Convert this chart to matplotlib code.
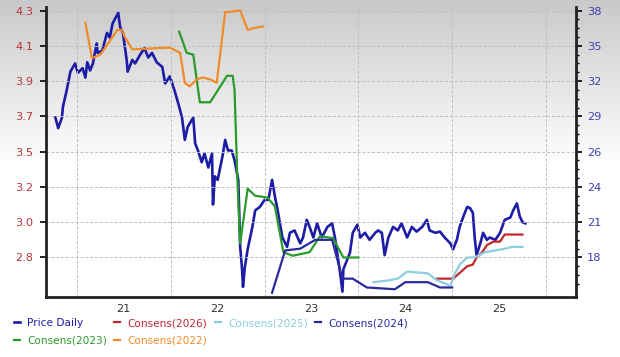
import numpy as np
import matplotlib.pyplot as plt
from matplotlib.colors import LinearSegmentedColormap

# ---- data (x in decimal years) ----
price_t = [2020.77, 2020.80, 2020.84, 2020.85, 2020.89, 2020.93, 2020.98, 2021.01, 2021.06, 2021.09,
           2021.11, 2021.14, 2021.17, 2021.21, 2021.22, 2021.27, 2021.32, 2021.35, 2021.38, 2021.44,
           2021.46, 2021.49, 2021.53, 2021.54, 2021.59, 2021.62, 2021.67, 2021.72, 2021.76, 2021.80,
           2021.85, 2021.91, 2021.94, 2021.99, 2022.04, 2022.08, 2022.12, 2022.15, 2022.18, 2022.24,
           2022.26, 2022.29, 2022.33, 2022.36, 2022.40, 2022.44, 2022.45, 2022.47, 2022.50, 2022.55,
           2022.58, 2022.61, 2022.65, 2022.68, 2022.72, 2022.74, 2022.76, 2022.77, 2022.79, 2022.82,
           2022.87, 2022.90, 2022.95, 2023.00, 2023.04, 2023.08, 2023.11, 2023.14, 2023.19, 2023.24,
           2023.27, 2023.32, 2023.38, 2023.41, 2023.45, 2023.48, 2023.52, 2023.56, 2023.61, 2023.67,
           2023.72, 2023.75, 2023.78, 2023.80, 2023.83, 2023.84, 2023.88, 2023.91, 2023.94, 2023.99,
           2024.02, 2024.07, 2024.12, 2024.18, 2024.21, 2024.25, 2024.28, 2024.32, 2024.37, 2024.42,
           2024.46, 2024.52, 2024.57, 2024.62, 2024.68, 2024.73, 2024.76, 2024.82, 2024.87, 2024.92,
           2024.98, 2025.01, 2025.05, 2025.08, 2025.12, 2025.16, 2025.19, 2025.22, 2025.24, 2025.26,
           2025.30, 2025.33, 2025.37, 2025.40, 2025.46, 2025.51, 2025.56, 2025.62, 2025.65, 2025.69,
           2025.72, 2025.75, 2025.78]
price_v = [28.9, 28.0, 28.9, 29.8, 31.2, 32.8, 33.5, 32.7, 33.1, 32.3,
           33.6, 32.9, 33.5, 35.2, 34.4, 34.6, 36.1, 35.7, 36.9, 37.8,
           36.6, 36.1, 33.8, 32.8, 33.8, 33.5, 34.2, 34.8, 34.0, 34.4,
           33.6, 33.2, 31.8, 32.4, 31.2, 30.1, 28.9, 27.0, 28.1, 28.9,
           26.7, 26.1, 25.4, 25.9, 25.1, 25.9, 22.5, 24.6, 24.4, 25.7,
           27.0, 26.1, 26.1, 25.5, 24.4, 18.9, 17.0, 15.5, 17.2, 18.7,
           20.6, 22.0, 22.3, 22.9, 22.9, 24.4, 23.2, 22.0, 19.7, 18.9,
           20.1, 20.3, 19.2, 19.7, 21.2, 20.6, 19.7, 20.9, 19.7, 20.6,
           20.9, 19.7, 18.1, 17.0, 15.1, 17.0, 17.8, 18.4, 20.1, 20.8,
           19.7, 20.1, 19.5, 20.1, 20.3, 20.1, 18.2, 19.7, 20.6, 20.3,
           20.9, 19.7, 20.6, 20.2, 20.6, 21.2, 20.3, 20.1, 20.2, 19.7,
           19.2, 18.7, 19.5, 20.6, 21.5, 22.3, 22.2, 21.8, 19.7, 18.2,
           19.2, 20.1, 19.5, 19.7, 19.5, 20.1, 21.2, 21.4, 22.0, 22.6,
           21.5, 21.0, 20.9]

c2026_t = [2024.84, 2025.01, 2025.16, 2025.22, 2025.26, 2025.32, 2025.37, 2025.44, 2025.51, 2025.56, 2025.62, 2025.75]
c2026_v = [2.68, 2.68, 2.75, 2.76, 2.80, 2.83, 2.87, 2.89, 2.89, 2.93, 2.93, 2.93]

c2025_t = [2024.16, 2024.32, 2024.42, 2024.52, 2024.74, 2024.84, 2024.98, 2025.03, 2025.08, 2025.16,
           2025.24, 2025.35, 2025.46, 2025.56, 2025.64, 2025.75]
c2025_v = [2.66, 2.67, 2.68, 2.72, 2.71, 2.67, 2.64, 2.71, 2.76, 2.80,
           2.80, 2.83, 2.84, 2.85, 2.86, 2.86]

c2024_t = [2023.08, 2023.22, 2023.38, 2023.54, 2023.72, 2023.83, 2023.94, 2024.09, 2024.39, 2024.50,
           2024.74, 2024.87, 2025.00]
c2024_v = [2.60, 2.84, 2.85, 2.90, 2.90, 2.68, 2.68, 2.63, 2.62, 2.66,
           2.66, 2.63, 2.63]

c2023_t = [2022.09, 2022.17, 2022.24, 2022.31, 2022.42, 2022.60, 2022.66, 2022.68, 2022.71, 2022.74,
           2022.82, 2022.90, 2023.03, 2023.11, 2023.20, 2023.30, 2023.48, 2023.59, 2023.73, 2023.84, 2024.00]
c2023_v = [4.18, 4.06, 4.05, 3.78, 3.78, 3.93, 3.93, 3.85, 3.26, 2.88,
           3.19, 3.15, 3.14, 3.09, 2.83, 2.81, 2.83, 2.92, 2.91, 2.80, 2.80]

c2022_t = [2021.09, 2021.16, 2021.25, 2021.43, 2021.48, 2021.51, 2021.59, 2021.99, 2022.10, 2022.15,
           2022.20, 2022.28, 2022.34, 2022.42, 2022.49, 2022.58, 2022.74, 2022.82, 2022.88, 2022.98]
c2022_v = [4.23, 4.03, 4.05, 4.19, 4.19, 4.15, 4.08, 4.09, 4.06, 3.89,
           3.87, 3.91, 3.92, 3.91, 3.89, 4.29, 4.30, 4.19, 4.20, 4.21]

eps_ticks = [2.8, 3.0, 3.2, 3.5, 3.7, 3.9, 4.1, 4.3]
price_ticks = [18, 21, 24, 26, 29, 32, 35, 38]
year_labels = ['21', '22', '23', '24', '25']
year_bounds = [2021, 2022, 2023, 2024, 2025, 2026]

C_PRICE = '#1c1ca6'
C_2026 = '#c0282d'
C_2025 = '#8dcde0'
C_2024 = '#2a2a9e'
C_2023 = '#2a9a2a'
C_2022 = '#f08c28'


def even_scale(ticks):
    # labelled ticks sit on evenly spaced gridlines
    step_lo = ticks[1] - ticks[0]
    step_hi = ticks[-1] - ticks[-2]
    vals = np.array([ticks[0] - 3 * step_lo] + list(ticks) + [ticks[-1] + 3 * step_hi], dtype=float)
    pos = np.array([-3] + list(range(len(ticks))) + [len(ticks) + 2], dtype=float)
    fwd = lambda v: np.interp(v, vals, pos)
    inv = lambda p: np.interp(p, pos, vals)
    return fwd, inv


fig = plt.figure(figsize=(6.2, 3.57), dpi=100)

# grey-to-white background
bg = fig.add_axes([0, 0, 1, 1], zorder=-10)
grad = np.clip(np.linspace(0, 357 / 165, 357), 0, 1)[:, None]
cmap = LinearSegmentedColormap.from_list('bg', ['#c9c9c9', '#ffffff'])
bg.imshow(grad, aspect='auto', cmap=cmap, extent=[0, 1, 0, 1])
bg.axis('off')

ax = fig.add_axes([46 / 620, 1 - 297 / 357, 530 / 620, 290 / 357])
ax2 = ax.twinx()
ax.set_zorder(ax2.get_zorder() + 1)
ax.patch.set_visible(False)
ax2.patch.set_visible(False)

f_eps, i_eps = even_scale(eps_ticks)
f_px, i_px = even_scale(price_ticks)
ax.set_yscale('function', functions=(f_eps, i_eps))
ax2.set_yscale('function', functions=(f_px, i_px))

ax2.plot(price_t, price_v, color=C_PRICE, lw=1.9, label='Price Daily')
ax.plot(c2023_t, c2023_v, color=C_2023, lw=1.6, label='Consens(2023)')
ax.plot(c2026_t, c2026_v, color=C_2026, lw=1.6, label='Consens(2026)')
ax.plot(c2022_t, c2022_v, color=C_2022, lw=1.6, label='Consens(2022)')
ax.plot(c2025_t, c2025_v, color=C_2025, lw=1.6, label='Consens(2025)')
ax.plot(c2024_t, c2024_v, color=C_2024, lw=1.6, label='Consens(2024)')

ax.set_xlim(2020.67, 2026.32)
ax.set_ylim(i_eps(-1.12), i_eps(7.10))
ax2.set_ylim(i_px(-1.12), i_px(7.10))

ax.set_yticks(eps_ticks)
ax.set_yticklabels([f'{v:.1f}' for v in eps_ticks])
ax2.set_yticks(price_ticks)
ax2.set_yticklabels([str(v) for v in price_ticks])
minor_pos = [p for p in np.arange(-1, 7.01, 0.25) if p % 1 != 0]
ax2.set_yticks(i_px(np.array(minor_pos)), minor=True)

ax.set_xticks([y + 0.5 for y in year_bounds[:-1]])
ax.set_xticklabels(year_labels)
ax.set_xticks(year_bounds, minor=True)
ax.tick_params(axis='x', which='both', length=0, pad=5, labelsize=8.2, labelcolor='#333333')
ax.tick_params(axis='y', which='major', length=4, width=1.2, pad=5, labelsize=8.2, labelcolor='#b5363a')
ax.tick_params(axis='y', which='minor', length=0)
ax2.tick_params(axis='y', which='major', length=4, width=1.2, pad=4, labelsize=8.2, labelcolor='#4040b0')
ax2.tick_params(axis='y', which='minor', length=2.5, width=1.0)

grid_kw = dict(color='#bdbdbd', lw=0.7, ls=(0, (3, 2)))
ax.yaxis.grid(True, which='major', **grid_kw)
ax.xaxis.grid(True, which='minor', **grid_kw)
ax.set_axisbelow(True)

for a in (ax, ax2):
    a.spines['top'].set_visible(False)
    for s in ('left', 'right', 'bottom'):
        a.spines[s].set_linewidth(2)
        a.spines[s].set_color('#222222')
ax.spines['right'].set_visible(False)
ax2.spines['left'].set_visible(False)
ax2.spines['bottom'].set_visible(False)

h1, l1 = ax2.get_legend_handles_labels()
h2, l2 = ax.get_legend_handles_labels()
fig.legend(h1 + h2, l1 + l2, loc='upper left', bbox_to_anchor=(14 / 620, 1 - 318 / 357),
           ncol=4, frameon=False, fontsize=7.6, labelcolor='linecolor',
           handlelength=0.55, handletextpad=0.7, columnspacing=0.7, labelspacing=0.72,
           borderpad=0, borderaxespad=0)

fig.savefig('out.png', dpi=100)
